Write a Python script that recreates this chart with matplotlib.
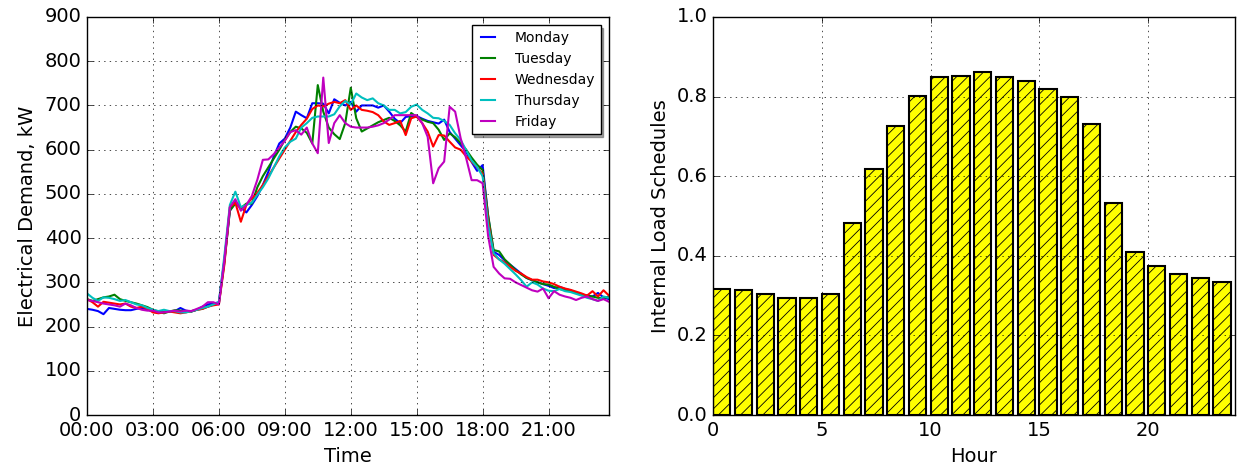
import matplotlib
matplotlib.use("Agg")
import matplotlib.pyplot as plt
import numpy as np

# ---- 15-minute electrical demand (kW), 00:00 .. 23:45 ----
days = ["Monday", "Tuesday", "Wednesday", "Thursday", "Friday"]
day_colors = ["b", "g", "r", "c", "m"]

monday = [
    240, 238, 235, 228,  242, 240, 238, 237,  237, 240, 242, 238,
    235, 232, 233, 234,  235, 242, 236, 234,  238, 245, 250, 252,
    255, 350, 462, 482,  470, 458, 475, 495,  520, 550, 585, 614,
    625, 650, 686, 678,  671, 705, 705, 704,  682, 714, 706, 700,
    708, 686, 700, 700,  700, 695, 700, 686,  670, 660, 674, 676,
    676, 670, 665, 662,  659, 668, 640, 625,  610, 595, 572, 552,
    565, 450, 369, 362,  350, 340, 330, 320,  310, 305, 300, 296,
    292, 287, 290, 285,  282, 276, 272, 270,  268, 276, 266, 262,
]
tuesday = [
    262, 258, 262, 266,  268, 272, 262, 258,  255, 252, 248, 244,
    238, 234, 230, 234,  237, 236, 235, 234,  238, 240, 245, 250,
    252, 345, 462, 478,  468, 478, 478, 515,  540, 560, 580, 600,
    622, 640, 652, 648,  638, 614, 746, 686,  650, 635, 624, 660,
    740, 671, 641, 648,  655, 662, 667, 672,  665, 655, 641, 683,
    674, 668, 663, 660,  645, 622, 637, 628,  615, 600, 582, 566,
    554, 452, 373, 370,  352, 340, 328, 318,  310, 305, 300, 296,
    295, 290, 285, 282,  280, 276, 272, 270,  268, 265, 264, 268,
]
wednesday = [
    262, 255, 245, 256,  254, 252, 250, 252,  245, 242, 245, 240,
    232, 230, 232, 234,  232, 230, 232, 235,  238, 240, 245, 248,
    250, 340, 470, 480,  437, 475, 490, 502,  520, 540, 560, 580,
    600, 620, 640, 656,  670, 692, 700, 698,  704, 708, 705, 712,
    690, 700, 690, 688,  685, 678, 664, 656,  660, 665, 633, 671,
    675, 660, 641, 607,  633, 632, 618, 605,  600, 585, 573, 560,
    545, 440, 362, 352,  345, 335, 326, 320,  312, 306, 306, 302,
    300, 296, 290, 286,  283, 279, 275, 270,  280, 268, 282, 270,
]
thursday = [
    275, 265, 258, 266,  265, 262, 258, 260,  255, 250, 248, 242,
    238, 235, 238, 235,  235, 232, 232, 235,  238, 242, 245, 250,
    255, 360, 475, 505,  470, 475, 480, 498,  515, 535, 560, 585,
    605, 618, 625, 650,  660, 672, 675, 675,  675, 680, 698, 710,
    702, 727, 718, 712,  716, 705, 700, 690,  690, 682, 685, 697,
    702, 690, 682, 672,  671, 665, 656, 637,  622, 599, 575, 561,
    540, 430, 366, 352,  342, 330, 318, 305,  290, 300, 295, 286,
    281, 280, 285, 280,  278, 274, 270, 265,  262, 258, 268, 265,
]
friday = [
    260, 258, 255, 252,  250, 248, 245, 252,  248, 242, 238, 236,
    236, 232, 232, 234,  236, 234, 236, 235,  240, 245, 255, 255,
    250, 350, 470, 488,  462, 475, 495, 532,  577, 578, 590, 605,
    620, 640, 644, 634,  650, 614, 592, 763,  615, 660, 678, 660,
    652, 650, 650, 650,  652, 655, 660, 668,  678, 678, 678, 678,
    678, 660, 629, 524,  558, 573, 697, 686,  626, 581, 531, 531,
    524, 405, 335, 320,  309, 308, 300, 294,  288, 282, 279, 286,
    264, 280, 272, 268,  265, 260, 265, 268,  262, 258, 262, 256,
]
demand = [monday, tuesday, wednesday, thursday, friday]

time_ticks = [0, 3, 6, 9, 12, 15, 18, 21]
time_labels = ["00:00", "03:00", "06:00", "09:00", "12:00", "15:00", "18:00", "21:00"]

# ---- hourly internal load schedule (fraction) ----
hours = list(range(24))
schedule = [
    0.317, 0.313, 0.303, 0.293, 0.293, 0.305, 0.482, 0.617,
    0.726, 0.802, 0.849, 0.852, 0.861, 0.850, 0.839, 0.820,
    0.799, 0.731, 0.532, 0.409, 0.375, 0.355, 0.344, 0.334,
]

plt.style.use("classic")
plt.rcParams.update({
    "font.family": "DejaVu Sans",
    "font.size": 14,
    "figure.facecolor": "white",
    "savefig.facecolor": "white",
    "hatch.linewidth": 0.6,
})

W, H = 1238, 473
fig = plt.figure(figsize=(W / 100, H / 100), dpi=100)
ax1 = fig.add_axes([87 / W, 58 / H, 522 / W, 398 / H])
ax2 = fig.add_axes([713 / W, 58 / H, 522 / W, 398 / H])

# left: daily demand profiles
t = np.arange(96) * 0.25
for name, vals, col in zip(days, demand, day_colors):
    ax1.plot(t, vals, color=col, lw=1.5, label=name)
ax1.set_xlim(0, 23.75)
ax1.set_ylim(0, 900)
ax1.set_yticks(np.arange(0, 901, 100))
ax1.set_xticks(time_ticks)
ax1.set_xticklabels(time_labels)
ax1.set_xlabel("Time")
ax1.set_ylabel("Electrical Demand, kW")
ax1.grid(True)
ax1.legend(loc="upper right", fontsize=10, shadow=True,
           handlelength=1.6, handletextpad=1.1, borderaxespad=0.6)

# right: hourly schedule bars
ax2.bar(hours, schedule, width=0.8, align="edge", color="yellow",
        edgecolor="black", linewidth=1.5, hatch="///")
ax2.set_xlim(0, 24)
ax2.set_ylim(0, 1.0)
ax2.set_yticks(np.arange(0, 1.01, 0.2))
ax2.set_xticks([0, 5, 10, 15, 20])
ax2.set_xlabel("Hour")
ax2.set_ylabel("Internal Load Schedules")
ax2.grid(True)
ax2.set_axisbelow(False)

fig.savefig("out.png", dpi=100)
